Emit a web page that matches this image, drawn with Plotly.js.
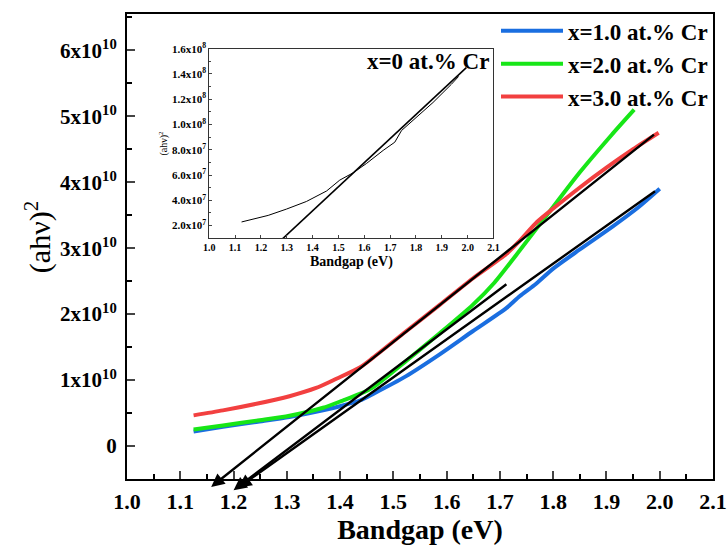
<!DOCTYPE html>
<html>
<head>
<meta charset="utf-8">
<script src="https://cdn.plot.ly/plotly-3.0.1.min.js"></script>
<style>html,body{margin:0;padding:0;background:#fff;}#chart{width:727px;height:545px;}</style>
</head>
<body>
<div id="chart"></div>
<script>
// ---- main data (x = bandgap eV, y = (ahv)^2) ----
const blueX = [1.125, 1.18, 1.243, 1.305, 1.368, 1.405, 1.437, 1.462, 1.524, 1.587, 1.649, 1.712, 1.737, 1.768, 1.80, 1.85, 1.912, 1.96, 2.0];
const blueY = [0.22e10, 0.29e10, 0.365e10, 0.44e10, 0.54e10, 0.615e10, 0.69e10, 0.79e10, 1.06e10, 1.39e10, 1.74e10, 2.09e10, 2.27e10, 2.46e10, 2.69e10, 2.98e10, 3.33e10, 3.62e10, 3.9e10];
const greenX = [1.125, 1.18, 1.243, 1.305, 1.368, 1.405, 1.437, 1.462, 1.524, 1.587, 1.649, 1.69, 1.73, 1.79, 1.85, 1.91, 1.952];
const greenY = [0.25e10, 0.31e10, 0.385e10, 0.46e10, 0.58e10, 0.69e10, 0.79e10, 0.89e10, 1.29e10, 1.71e10, 2.14e10, 2.48e10, 2.89e10, 3.52e10, 4.15e10, 4.72e10, 5.1e10];
const redX = [1.125, 1.18, 1.243, 1.305, 1.355, 1.393, 1.437, 1.462, 1.524, 1.587, 1.649, 1.712, 1.737, 1.77, 1.80, 1.85, 1.90, 1.95, 1.998];
const redY = [0.465e10, 0.54e10, 0.64e10, 0.755e10, 0.88e10, 1.02e10, 1.19e10, 1.34e10, 1.74e10, 2.14e10, 2.54e10, 2.91e10, 3.11e10, 3.40e10, 3.60e10, 3.92e10, 4.22e10, 4.50e10, 4.75e10];
const seriesNames = ["x=1.0 at.% Cr", "x=2.0 at.% Cr", "x=3.0 at.% Cr"];

// tangent (fit) lines: tail [x,y] -> arrow tip [x,y]
const fitTailX = [1.992, 1.715, 1.994];
const fitTailY = [4.74e10, 2.47e10, 3.88e10];
const fitTipX = [1.158, 1.200, 1.209];
const fitTipY = [-0.62e10, -0.67e10, -0.63e10];

// main tick labels
const xTicks = [1.0, 1.1, 1.2, 1.3, 1.4, 1.5, 1.6, 1.7, 1.8, 1.9, 2.0, 2.1];
const yTickVals = [0, 1e10, 2e10, 3e10, 4e10, 5e10, 6e10];
const yTickText = ["0", "1x10<sup>10</sup>", "2x10<sup>10</sup>", "3x10<sup>10</sup>", "4x10<sup>10</sup>", "5x10<sup>10</sup>", "6x10<sup>10</sup>"];

// ---- inset data (x = 0 at.% Cr) ----
const insetX = [1.125, 1.228, 1.299, 1.376, 1.454, 1.505, 1.557, 1.608, 1.673, 1.718, 1.744, 1.802, 1.866, 1.937, 1.965];
const insetY = [2.29e7, 2.81e7, 3.31e7, 3.91e7, 4.74e7, 5.6e7, 6.18e7, 6.91e7, 7.95e7, 8.6e7, 9.52e7, 1.057e8, 1.174e8, 1.318e8, 1.38e8];
const insetFitX = [1.27, 1.995];
const insetFitY = [0.7e7, 1.45e8];
const insetYTickVals = [2e7, 4e7, 6e7, 8e7, 1e8, 1.2e8, 1.4e8, 1.6e8];
const insetYTickText = ["2.0x10<sup>7</sup>", "4.0x10<sup>7</sup>", "6.0x10<sup>7</sup>", "8.0x10<sup>7</sup>", "1.0x10<sup>8</sup>", "1.2x10<sup>8</sup>", "1.4x10<sup>8</sup>", "1.6x10<sup>8</sup>"];

const SERIF = "Liberation Serif, Times New Roman, serif";
const colors = ["#1a6ee0", "#17e617", "#f24040"];

const traces = [
  {x: blueX, y: blueY, name: seriesNames[0], mode: "lines", line: {color: colors[0], width: 4, shape: "spline", smoothing: 0.7}, xaxis: "x", yaxis: "y"},
  {x: greenX, y: greenY, name: seriesNames[1], mode: "lines", line: {color: colors[1], width: 4, shape: "spline", smoothing: 0.7}, xaxis: "x", yaxis: "y"},
  {x: redX, y: redY, name: seriesNames[2], mode: "lines", line: {color: colors[2], width: 4, shape: "spline", smoothing: 0.7}, xaxis: "x", yaxis: "y"},
  {x: insetX, y: insetY, mode: "lines", line: {color: "#000", width: 1}, xaxis: "x2", yaxis: "y2", showlegend: false},
  {x: insetFitX, y: insetFitY, mode: "lines", line: {color: "#000", width: 1.6}, xaxis: "x2", yaxis: "y2", showlegend: false}
];

const annotations = [];
for (let i = 0; i < fitTailX.length; i++) {
  annotations.push({
    x: fitTipX[i], y: fitTipY[i], ax: fitTailX[i], ay: fitTailY[i],
    xref: "x", yref: "y", axref: "x", ayref: "y",
    text: "", showarrow: true, arrowhead: 2, arrowsize: 1.1, arrowwidth: 2.4, arrowcolor: "#000", standoff: 0, startstandoff: 0
  });
}
annotations.push({
  text: "x=0 at.% Cr", xref: "paper", yref: "paper", x: 0.622, y: 0.898, xanchor: "right", yanchor: "middle",
  showarrow: false, font: {family: SERIF, size: 23, color: "#000", weight: "bold"}
});
annotations.push({
  text: "(ahν)<sup>2</sup>", xref: "paper", yref: "paper", x: -0.152, y: 0.52, xanchor: "center", yanchor: "middle",
  textangle: -90, showarrow: false, font: {family: SERIF, size: 30, color: "#000"}
});
annotations.push({
  text: "Bandgap (eV)", xref: "paper", yref: "paper", x: 0.383, y: 0.466, xanchor: "center", yanchor: "middle",
  showarrow: false, font: {family: SERIF, size: 14, color: "#000", weight: "bold"}
});

const layout = {
  width: 727, height: 545,
  margin: {l: 127, r: 14, t: 9, b: 66},
  paper_bgcolor: "#fff", plot_bgcolor: "#fff",
  showlegend: true,
  legend: {x: 1.0, xanchor: "right", y: 1.01, yanchor: "top", bgcolor: "rgba(0,0,0,0)", itemwidth: 62,
    font: {family: SERIF, size: 23, color: "#000", weight: "bold"}, tracegroupgap: 0},
  xaxis: {
    range: [1.0, 2.1], tickvals: xTicks, tickformat: ".1f", ticks: "inside", ticklen: 8, tickwidth: 2,
    showline: true, linewidth: 2, linecolor: "#000", mirror: true, showgrid: false, zeroline: false,
    tickfont: {family: SERIF, size: 22, color: "#000", weight: "bold"},
    minor: {dtick: 0.05, ticks: "inside", ticklen: 5, tickwidth: 2, tickcolor: "#000", showgrid: false},
    title: {text: "Bandgap (eV)", font: {family: SERIF, size: 28, color: "#000", weight: "bold"}, standoff: 7},
    ticklabelstandoff: 2
  },
  yaxis: {
    range: [-0.5e10, 6.55e10], tickvals: yTickVals, ticktext: yTickText, ticks: "inside", ticklen: 8, tickwidth: 2,
    showline: true, linewidth: 2, linecolor: "#000", mirror: true, showgrid: false, zeroline: false,
    tickfont: {family: SERIF, size: 21, color: "#000", weight: "bold"},
    minor: {dtick: 0.5e10, tick0: 0, ticks: "inside", ticklen: 5, tickwidth: 2, tickcolor: "#000", showgrid: false},
    ticklabelstandoff: 4
  },
  xaxis2: {
    domain: [0.1404, 0.6254], anchor: "y2", range: [1.0, 2.1], tickvals: xTicks, tickformat: ".1f",
    ticks: "inside", ticklen: 3, tickwidth: 1, showline: true, linewidth: 1, linecolor: "#333", mirror: true,
    showgrid: false, zeroline: false,
    tickfont: {family: SERIF, size: 10, color: "#000", weight: "bold"}
  },
  yaxis2: {
    domain: [0.5177, 0.9255], anchor: "x2", range: [1.0e7, 1.6e8], tickvals: insetYTickVals, ticktext: insetYTickText,
    ticks: "inside", ticklen: 3, tickwidth: 1, showline: true, linewidth: 1, linecolor: "#333", mirror: true,
    showgrid: false, zeroline: false,
    tickfont: {family: SERIF, size: 11, color: "#000", weight: "bold"},
    minor: {dtick: 1e7, tick0: 0, ticks: "inside", ticklen: 2, tickwidth: 1, showgrid: false},
    title: {text: "(ahν)<sup>2</sup>", font: {family: SERIF, size: 10, color: "#000"}, standoff: 2}
  },
  annotations: annotations
};

Plotly.newPlot("chart", traces, layout, {displayModeBar: false, staticPlot: true});
</script>
</body>
</html>
